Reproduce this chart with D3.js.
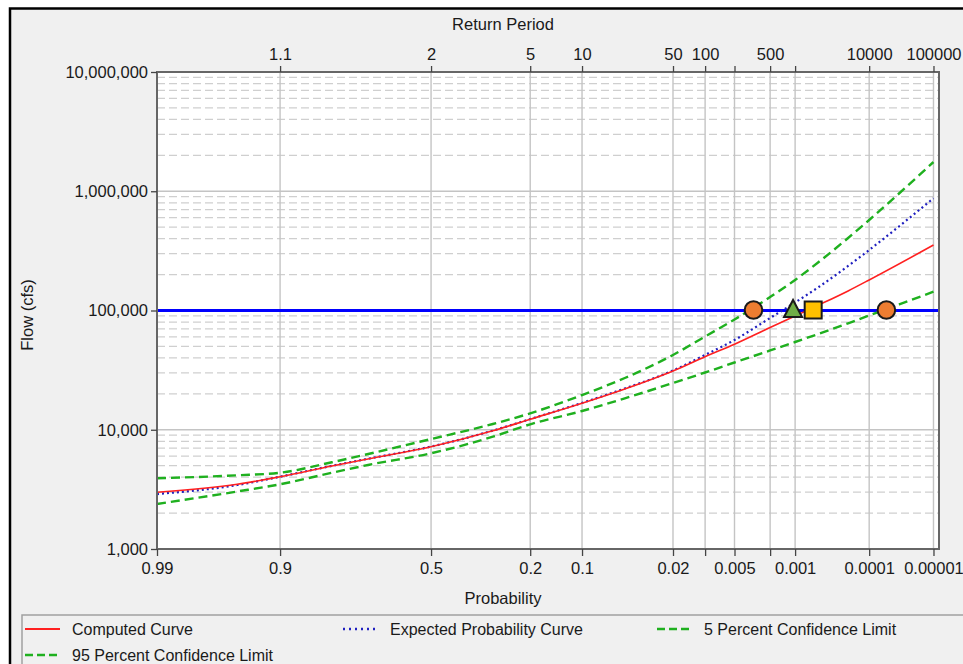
<!DOCTYPE html>
<html>
<head>
<meta charset="utf-8">
<script src="https://cdn.jsdelivr.net/npm/d3@7"></script>
<style>
  body { margin: 0; background: #ffffff; }
  svg text { font-family: "Liberation Sans", Arial, sans-serif; fill: #1a1a1a; }
</style>
</head>
<body>
<svg id="chart" width="963" height="664"></svg>
<script>
// Exceedance probabilities at which the frequency curves are tabulated
const probabilities = [0.99, 0.95, 0.9, 0.8, 0.7, 0.5, 0.3, 0.2, 0.1, 0.05, 0.02, 0.01, 0.005, 0.002, 0.001, 0.0005, 0.0002, 0.0001, 0.00001];

// Flow (cfs) for each curve at those probabilities
const computedCurve = [2990, 3490, 4040, 4970, 5720, 7210, 9800, 12240, 16670, 21970, 31100, 41020, 52120, 72000, 89950, 111200, 145900, 180300, 354000];
const expectedCurve = [2890, 3440, 4040, 4980, 5740, 7230, 9840, 12290, 16800, 22200, 31400, 42400, 56600, 86500, 116700, 157400, 236200, 321700, 873000];
const conf05Curve   = [3920, 4150, 4360, 5340, 6290, 8360, 11170, 13730, 19560, 27160, 42350, 60530, 84050, 129800, 180300, 255100, 405500, 574200, 1759000];
const conf95Curve   = [2385, 3035, 3490, 4360, 5090, 6350, 8745, 11110, 14360, 18350, 24660, 30200, 36640, 46210, 54430, 63760, 78100, 90780, 143800];

// Flow of interest and the probabilities where it meets the curves
const targetFlow = 100000;
const markerProbs = [0.0031, 0.00106, 0.00059, 0.0000555];
const markerKinds = ["circle", "triangle", "square", "circle"];

// Axis ticks
const bottomTickProbs = [0.99, 0.9, 0.5, 0.2, 0.1, 0.02, 0.01, 0.005, 0.002, 0.001, 0.0001, 0.00001];
const bottomTickLabels = ["0.99", "0.9", "0.5", "0.2", "0.1", "0.02", "", "0.005", "", "0.001", "0.0001", "0.00001"];
const topTickProbs = [0.9, 0.5, 0.2, 0.1, 0.02, 0.01, 0.005, 0.002, 0.001, 0.0001, 0.00001];
const topTickLabels = ["1.1", "2", "5", "10", "50", "100", "", "500", "", "10000", "100000"];
const flowTicks = [1000, 10000, 100000, 1000000, 10000000];

const seriesNames = ["Computed Curve", "Expected Probability Curve", "5 Percent Confidence Limit", "95 Percent Confidence Limit"];

// Inverse standard normal CDF (Acklam's rational approximation)
function normInv(p) {
  const a = [-3.969683028665376e+01, 2.209460984245205e+02, -2.759285104469687e+02, 1.383577518672690e+02, -3.066479806614716e+01, 2.506628277459239e+00];
  const b = [-5.447609879822406e+01, 1.615858368580409e+02, -1.556989798598866e+02, 6.680131188771972e+01, -1.328068155288572e+01];
  const c = [-7.784894002430293e-03, -3.223964580411365e-01, -2.400758277161838e+00, -2.549732539343734e+00, 4.374664141464968e+00, 2.938163982698783e+00];
  const d = [7.784695709041462e-03, 3.224671290700398e-01, 2.445134137142996e+00, 3.754408661907416e+00];
  const pl = 0.02425;
  let q, r;
  if (p < pl) {
    q = Math.sqrt(-2 * Math.log(p));
    return (((((c[0]*q+c[1])*q+c[2])*q+c[3])*q+c[4])*q+c[5]) / ((((d[0]*q+d[1])*q+d[2])*q+d[3])*q+1);
  } else if (p <= 1 - pl) {
    q = p - 0.5; r = q*q;
    return (((((a[0]*r+a[1])*r+a[2])*r+a[3])*r+a[4])*r+a[5])*q / (((((b[0]*r+b[1])*r+b[2])*r+b[3])*r+b[4])*r+1);
  } else {
    q = Math.sqrt(-2 * Math.log(1 - p));
    return -(((((c[0]*q+c[1])*q+c[2])*q+c[3])*q+c[4])*q+c[5]) / ((((d[0]*q+d[1])*q+d[2])*q+d[3])*q+1);
  }
}
// exceedance probability -> standard normal variate
const zOf = p => normInv(1 - p);

const svg = d3.select("#chart");
const plot = { left: 157, right: 939, top: 72, bottom: 549 };

const x = d3.scaleLinear().domain([zOf(0.99), zOf(0.0000081)]).range([plot.left, plot.right]);
const y = d3.scaleLog().domain([1000, 10000000]).range([plot.bottom, plot.top]);
const xp = p => x(zOf(p));

// outer panel
svg.append("rect").attr("x", 10).attr("y", 8.5).attr("width", 1000).attr("height", 700)
  .attr("fill", "#f0f0f0").attr("stroke", "#000").attr("stroke-width", 2.5);

// plotting area
svg.append("rect").attr("x", plot.left).attr("y", plot.top)
  .attr("width", plot.right - plot.left).attr("height", plot.bottom - plot.top).attr("fill", "#ffffff");

const grid = svg.append("g");
// minor horizontal grid (dashed)
const minorFlows = [];
for (let dec = 1000; dec < 10000000; dec *= 10) for (let m = 2; m <= 9; m++) minorFlows.push(dec * m);
grid.selectAll("line.minor").data(minorFlows).join("line")
  .attr("x1", plot.left).attr("x2", plot.right)
  .attr("y1", d => y(d)).attr("y2", d => y(d))
  .attr("stroke", "#cfcfcf").attr("stroke-width", 1.3).attr("stroke-dasharray", "8,4");
// major horizontal grid
grid.selectAll("line.major").data(flowTicks.slice(1, -1)).join("line")
  .attr("x1", plot.left).attr("x2", plot.right)
  .attr("y1", d => y(d)).attr("y2", d => y(d))
  .attr("stroke", "#c4c4c4").attr("stroke-width", 1.4);
// vertical grid
grid.selectAll("line.v").data(bottomTickProbs.slice(1)).join("line")
  .attr("x1", d => xp(d)).attr("x2", d => xp(d))
  .attr("y1", plot.top).attr("y2", plot.bottom)
  .attr("stroke", "#c4c4c4").attr("stroke-width", 1.4);

// flow-of-interest line
svg.append("line").attr("x1", plot.left).attr("x2", plot.right)
  .attr("y1", y(targetFlow)).attr("y2", y(targetFlow))
  .attr("stroke", "#0000ff").attr("stroke-width", 3);

// curves
const styles = [
  { color: "#ff2020", width: 1.6, dash: null },
  { color: "#2020c0", width: 2.2, dash: "2,3" },
  { color: "#1fb01f", width: 2.4, dash: "9,5" },
  { color: "#1fb01f", width: 2.4, dash: "9,5" }
];
const curves = [computedCurve, expectedCurve, conf05Curve, conf95Curve];
const line = d3.line().x(d => xp(d[0])).y(d => y(d[1])).curve(d3.curveMonotoneX);
[3, 2, 1, 0].forEach(i => {
  svg.append("path")
    .datum(probabilities.map((p, k) => [p, curves[i][k]]))
    .attr("d", line)
    .attr("fill", "none")
    .attr("stroke", styles[i].color)
    .attr("stroke-width", styles[i].width)
    .attr("stroke-dasharray", styles[i].dash);
});

// markers on the flow-of-interest line
const markerFill = { circle: "#ed7d31", triangle: "#70ad47", square: "#ffc000" };
markerProbs.forEach((p, i) => {
  const cx = xp(p), cy = y(targetFlow) - 0.5, kind = markerKinds[i];
  let el;
  if (kind === "circle") {
    el = svg.append("circle").attr("cx", cx).attr("cy", cy).attr("r", 8.8);
  } else if (kind === "square") {
    el = svg.append("rect").attr("x", cx - 8.5).attr("y", cy - 8.5).attr("width", 17).attr("height", 17);
  } else {
    el = svg.append("path").attr("d", `M${cx},${cy - 10}L${cx + 9},${cy + 7}L${cx - 9},${cy + 7}Z`);
  }
  el.attr("fill", markerFill[kind]).attr("stroke", "#1a1a1a").attr("stroke-width", 2);
});

// plot frame
svg.append("rect").attr("x", plot.left).attr("y", plot.top)
  .attr("width", plot.right - plot.left).attr("height", plot.bottom - plot.top)
  .attr("fill", "none").attr("stroke", "#666").attr("stroke-width", 2);

// axes
const fontSize = "16.5px";
function styleAxis(g) {
  g.select(".domain").remove();
  g.selectAll(".tick line").attr("stroke", "#444").attr("stroke-width", 1.3);
  g.selectAll(".tick text").attr("font-size", fontSize).attr("fill", "#1a1a1a")
    .attr("font-family", "Liberation Sans, Arial, sans-serif");
}
svg.append("g").attr("transform", `translate(0,${plot.bottom})`)
  .call(d3.axisBottom(x).tickValues(bottomTickProbs.map(zOf))
    .tickFormat((d, i) => bottomTickLabels[i]).tickSizeInner(7).tickSizeOuter(0).tickPadding(6))
  .call(styleAxis);
svg.append("g").attr("transform", `translate(0,${plot.top})`)
  .call(d3.axisTop(x).tickValues(topTickProbs.map(zOf))
    .tickFormat((d, i) => topTickLabels[i]).tickSizeInner(6).tickSizeOuter(0).tickPadding(6))
  .call(styleAxis);
svg.append("g").attr("transform", `translate(${plot.left},0)`)
  .call(d3.axisLeft(y).tickValues(flowTicks).tickFormat(d3.format(","))
    .tickSizeInner(6).tickSizeOuter(0).tickPadding(3))
  .call(styleAxis);

// axis titles
svg.append("text").attr("x", 503).attr("y", 30).attr("text-anchor", "middle")
  .attr("font-size", fontSize).text("Return Period");
svg.append("text").attr("x", 503).attr("y", 604).attr("text-anchor", "middle")
  .attr("font-size", fontSize).text("Probability");
svg.append("text").attr("transform", "translate(33,315) rotate(-90)").attr("text-anchor", "middle")
  .attr("font-size", fontSize).attr("fill", "#333").text("Flow (cfs)");

// legend
svg.append("rect").attr("x", 22).attr("y", 615).attr("width", 980).attr("height", 80)
  .attr("fill", "#f0f0f0").attr("stroke", "#a0a0a0").attr("stroke-width", 1.5);
const legendPos = [[25, 629], [343, 629], [657, 629], [25, 655]];
seriesNames.forEach((name, i) => {
  const [lx, ly] = legendPos[i];
  svg.append("line").attr("x1", lx).attr("x2", lx + 35).attr("y1", ly).attr("y2", ly)
    .attr("stroke", styles[i].color).attr("stroke-width", i === 0 ? 2 : 2.4)
    .attr("stroke-dasharray", i === 1 ? "2,4" : (i >= 2 ? "8,4" : null));
  svg.append("text").attr("x", lx + 47).attr("y", ly + 5.5).attr("font-size", "16px").text(name);
});
</script>
</body>
</html>
